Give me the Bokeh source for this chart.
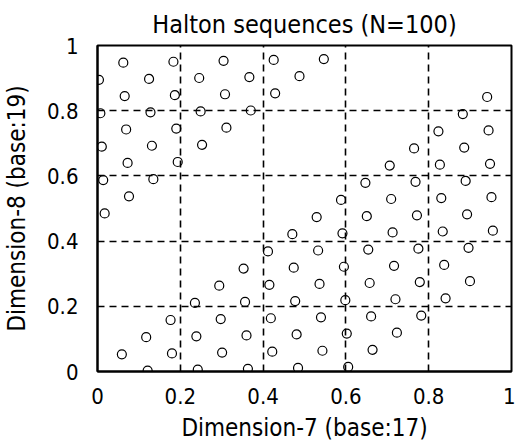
from bokeh.plotting import figure
from bokeh.models import Range1d, FixedTicker, NumeralTickFormatter, ColumnDataSource
from bokeh.embed import file_html
from bokeh.resources import INLINE

# Halton points: dimension 7 (base 17) and dimension 8 (base 19)
dim7 = [0.0588, 0.1176, 0.1765, 0.2353, 0.2941, 0.3529, 0.4118, 0.4706, 0.5294, 0.5882,
        0.6471, 0.7059, 0.7647, 0.8235, 0.8824, 0.9412, 0.0035, 0.0623, 0.1211, 0.1799,
        0.2388, 0.2976, 0.3564, 0.4152, 0.4740, 0.5329, 0.5917, 0.6505, 0.7093, 0.7682,
        0.8270, 0.8858, 0.9446, 0.0069, 0.0657, 0.1246, 0.1834, 0.2422, 0.3010, 0.3599,
        0.4187, 0.4775, 0.5363, 0.5952, 0.6540, 0.7128, 0.7716, 0.8304, 0.8893, 0.9481,
        0.0104, 0.0692, 0.1280, 0.1869, 0.2457, 0.3045, 0.3633, 0.4221, 0.4810, 0.5398,
        0.5986, 0.6574, 0.7163, 0.7751, 0.8339, 0.8927, 0.9516, 0.0138, 0.0727, 0.1315,
        0.1903, 0.2491, 0.3080, 0.3668, 0.4256, 0.4844, 0.5433, 0.6021, 0.6609, 0.7197,
        0.7785, 0.8374, 0.8962, 0.9550, 0.0173, 0.0761, 0.1349, 0.1938, 0.2526, 0.3114,
        0.3702, 0.4291, 0.4879, 0.5467, 0.6055, 0.6644, 0.7232, 0.7820, 0.8408, 0.8997]
dim8 = [0.0526, 0.1053, 0.1579, 0.2105, 0.2632, 0.3158, 0.3684, 0.4211, 0.4737, 0.5263,
        0.5789, 0.6316, 0.6842, 0.7368, 0.7895, 0.8421, 0.8947, 0.9474, 0.0028, 0.0554,
        0.1080, 0.1607, 0.2133, 0.2659, 0.3186, 0.3712, 0.4238, 0.4765, 0.5291, 0.5817,
        0.6343, 0.6870, 0.7396, 0.7922, 0.8449, 0.8975, 0.9501, 0.0055, 0.0582, 0.1108,
        0.1634, 0.2161, 0.2687, 0.3213, 0.3740, 0.4266, 0.4792, 0.5319, 0.5845, 0.6371,
        0.6898, 0.7424, 0.7950, 0.8476, 0.9003, 0.9529, 0.0083, 0.0609, 0.1136, 0.1662,
        0.2188, 0.2715, 0.3241, 0.3767, 0.4294, 0.4820, 0.5346, 0.5873, 0.6399, 0.6925,
        0.7452, 0.7978, 0.8504, 0.9030, 0.9557, 0.0111, 0.0637, 0.1163, 0.1690, 0.2216,
        0.2742, 0.3269, 0.3795, 0.4321, 0.4848, 0.5374, 0.5900, 0.6427, 0.6953, 0.7479,
        0.8006, 0.8532, 0.9058, 0.9584, 0.0139, 0.0665, 0.1191, 0.1717, 0.2244, 0.2770]
tick_values = [0, 0.2, 0.4, 0.6, 0.8, 1]

FONT = "'DejaVu Sans Condensed', 'DejaVu Sans', sans-serif"

p = figure(width=515, height=445, output_backend="svg", toolbar_location=None,
           x_range=Range1d(0, 1), y_range=Range1d(0, 1),
           title="Halton sequences (N=100)",
           min_border_left=97, min_border_right=4, min_border_top=45, min_border_bottom=74)
p.background_fill_color = "white"
p.border_fill_color = "white"
p.outline_line_color = "black"
p.outline_line_width = 2

p.title.align = "center"
p.title.text_font = FONT
p.title.text_font_size = "25px"
p.title.text_font_style = "normal"
p.title.text_color = "black"
p.title.standoff = 14

src = ColumnDataSource(dict(x=dim7, y=dim8))
p.scatter("x", "y", source=src, marker="circle", size=9, fill_color=None,
          line_color="black", line_width=1.2)

for ax in (p.xaxis[0], p.yaxis[0]):
    ax.ticker = FixedTicker(ticks=tick_values)
    ax.formatter = NumeralTickFormatter(format="0.[0]")
    ax.major_label_text_font = FONT
    ax.major_label_text_font_size = "22px"
    ax.major_label_text_color = "black"
    ax.axis_label_text_font = FONT
    ax.axis_label_text_font_size = "24px"
    ax.axis_label_text_font_style = "normal"
    ax.axis_label_text_color = "black"
    ax.axis_line_color = "black"
    ax.axis_line_width = 2
    ax.major_tick_line_color = None
    ax.minor_tick_line_color = None

p.xaxis.axis_label = "Dimension-7 (base:17)"
p.yaxis.axis_label = "Dimension-8 (base:19)"
p.xaxis.major_label_standoff = 10
p.xaxis.axis_label_standoff = 7
p.yaxis.major_label_standoff = 13
p.yaxis.axis_label_standoff = 13

for g in (p.xgrid[0], p.ygrid[0]):
    g.ticker = FixedTicker(ticks=tick_values)
    g.grid_line_color = "black"
    g.grid_line_width = 1.6
    g.grid_line_dash = "7 5"

open("out.html", "w").write(file_html(p, INLINE))
